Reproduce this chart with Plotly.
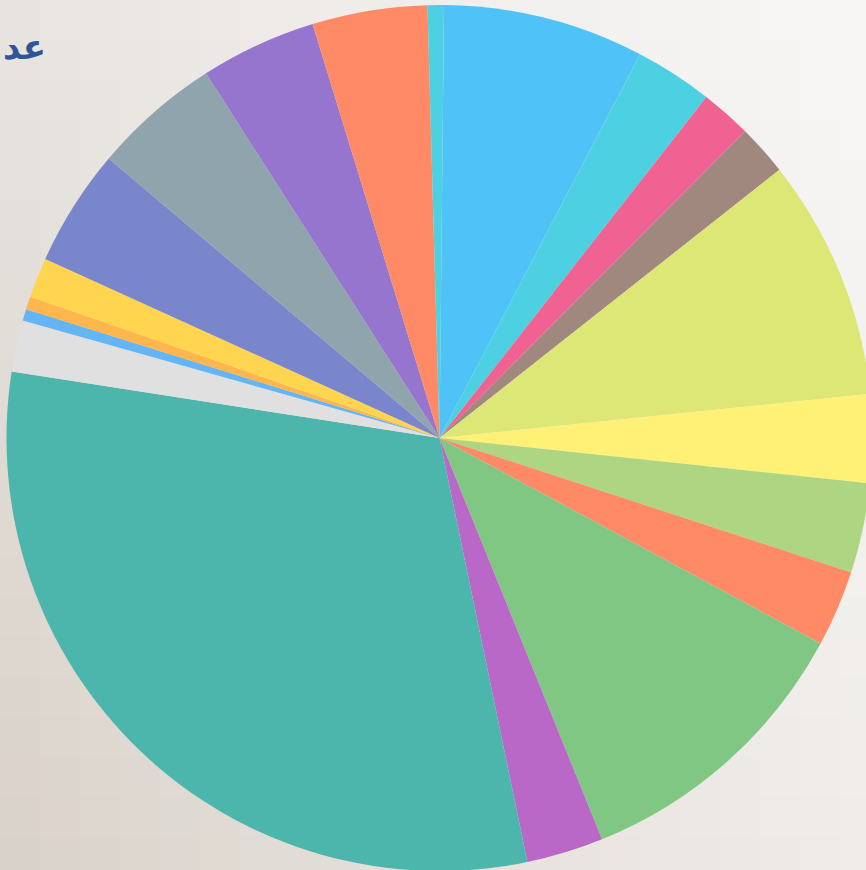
import plotly.graph_objects as go

# ---- data (shares in %) ----
categories = [
    "الفئة 1", "الفئة 2", "الفئة 3", "الفئة 4", "الفئة 5",
    "الفئة 6", "الفئة 7", "الفئة 8", "الفئة 9", "الفئة 10",
    "الفئة 11", "الفئة 12", "الفئة 13", "الفئة 14", "الفئة 15",
    "الفئة 16", "الفئة 17", "الفئة 18", "الفئة 19", "الفئة 20",
]
values = [7.5, 2.9, 1.9, 1.9, 9.0,
          3.3, 3.35, 2.85, 11.0, 2.87,
          30.7, 1.92, 0.43, 0.49, 1.49,
          4.38, 4.77, 4.33, 4.29, 0.61]
colors = ["#4FC3F7", "#4DD0E1", "#F06292", "#A1887F", "#DCE775",
          "#FFF176", "#AED581", "#FF8A65", "#81C784", "#BA68C8",
          "#4DB6AC", "#E0E0E0", "#64B5F6", "#FFB74D", "#FFD54F",
          "#7986CB", "#90A4AE", "#9575CD", "#FF8A65", "#4DD0E1"]
title_text = "عد"

W, H = 879, 876

fig = go.Figure(go.Pie(
    labels=categories,
    values=values,
    sort=False,
    direction="clockwise",
    rotation=0.6,
    marker=dict(colors=colors, line=dict(width=0)),
    textinfo="none",
    showlegend=False,
    domain=dict(x=[0, 1], y=[5 / H, 871 / H]),
))


def hex2rgb(h):
    h = h.lstrip("#")
    return [int(h[i:i + 2], 16) for i in (0, 2, 4)]


def lerp(a, b, t):
    return [a[i] + (b[i] - a[i]) * t for i in range(3)]


tl, bl = hex2rgb("#E7E3DF"), hex2rgb("#D8D0C8")
tr, br = hex2rgb("#F8F7F6"), hex2rgb("#EFECE9")
N = 22
shapes = []
for i in range(N):
    for j in range(N):
        u = (i + 0.5) / N
        v = (j + 0.5) / N
        left = lerp(tl, bl, v)
        right = lerp(tr, br, v)
        c = lerp(left, right, u ** 0.8)
        col = "rgb(%d,%d,%d)" % tuple(int(round(x)) for x in c)
        shapes.append(dict(
            type="rect", xref="paper", yref="paper",
            x0=i / N, x1=(i + 1) / N + 0.002,
            y0=1 - (j + 1) / N - 0.002, y1=1 - j / N,
            fillcolor=col, line=dict(width=0), layer="below",
        ))

fig.update_layout(
    width=W, height=H,
    margin=dict(l=0, r=0, t=0, b=0),
    paper_bgcolor="#EEEBE8",
    plot_bgcolor="rgba(0,0,0,0)",
    shapes=shapes,
    annotations=[dict(
        text="<b>" + title_text + "</b>",
        xref="paper", yref="paper",
        x=2 / W, y=1 - 47 / H,
        xanchor="left", yanchor="middle",
        showarrow=False, borderpad=0,
        font=dict(family="DejaVu Sans", size=34, color="#2E5597"),
    )],
)

fig.write_html(
    "out.html",
    config={"displayModeBar": False},
    post_script="document.body.style.margin='0';document.body.style.overflow='hidden';document.documentElement.style.overflow='hidden';",
)
